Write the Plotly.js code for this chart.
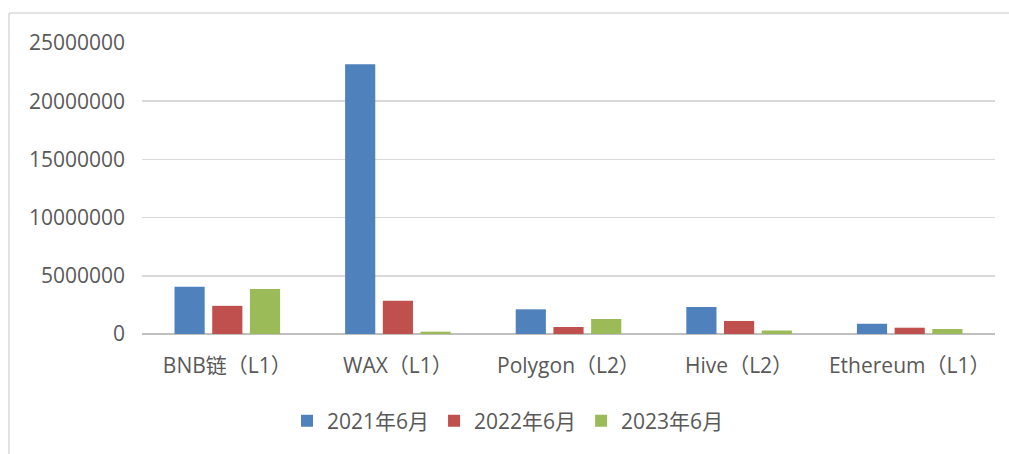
<!DOCTYPE html>
<html>
<head>
<meta charset="utf-8">
<script src="https://cdn.plot.ly/plotly-3.0.1.min.js"></script>
<style>
  html, body { margin: 0; padding: 0; background: #ffffff; }
  #chart { width: 1009px; height: 454px; }
</style>
</head>
<body>
<div id="chart"></div>
<script>
const categories = ["BNB链（L1）", "WAX（L1）", "Polygon（L2）", "Hive（L2）", "Ethereum（L1）"];
const seriesNames = ["2021年6月", "2022年6月", "2023年6月"];
const values2021 = [4060000, 23180000, 2120000, 2320000, 880000];
const values2022 = [2420000, 2850000, 600000, 1120000, 540000];
const values2023 = [3870000, 200000, 1290000, 300000, 430000];
const yTicks = [0, 5000000, 10000000, 15000000, 20000000, 25000000];

const colors = ["#4f81bd", "#c0504d", "#9bbb59"];
const allValues = [values2021, values2022, values2023];
const FONT = '"Open Sans", "Noto Sans CJK SC", sans-serif';

const traces = allValues.map((vals, i) => ({
  type: "bar",
  name: seriesNames[i],
  x: categories,
  y: vals,
  marker: { color: colors[i] },
  hoverinfo: "x+y+name"
}));

const L = 142, R = 14, T = 43, B = 120;
const W = 1009, H = 454;
const pw = W - L - R, ph = H - T - B;
const px = v => (v - L) / pw;
const py = v => (H - B - v) / ph;

const layout = {
  width: W, height: H,
  margin: { l: L, r: R, t: T, b: B, pad: 0 },
  paper_bgcolor: "#ffffff",
  plot_bgcolor: "#ffffff",
  barmode: "group",
  bargap: 0.337,
  bargroupgap: 0.2,
  font: { family: FONT, size: 21, color: "#595959" },
  showlegend: true,
  legend: {
    orientation: "h",
    x: px(508), xanchor: "center",
    y: py(421), yanchor: "middle",
    font: { family: FONT, size: 21, color: "#595959" },
    itemwidth: 30,
    traceorder: "normal"
  },
  xaxis: {
    type: "category",
    showgrid: false,
    showline: false,
    zeroline: false,
    ticks: "",
    ticklabelstandoff: 17,
    tickfont: { family: FONT, size: 21, color: "#595959" },
    fixedrange: true
  },
  yaxis: {
    range: [0, 25000000],
    tickvals: yTicks,
    ticktext: yTicks.map(v => String(v)),
    showgrid: true,
    gridcolor: "#d9d9d9",
    gridwidth: 1.5,
    zeroline: true,
    zerolinecolor: "#bfbfbf",
    zerolinewidth: 1.5,
    showline: false,
    ticks: "",
    ticklabelstandoff: 16,
    tickfont: { family: FONT, size: 21, color: "#595959" },
    fixedrange: true
  },
  shapes: [
    { type: "line", xref: "paper", yref: "paper", x0: px(9), x1: px(9), y0: py(13), y1: py(460),
      line: { color: "#d9d9d9", width: 1.5 } },
    { type: "line", xref: "paper", yref: "paper", x0: px(9), x1: px(1015), y0: py(13), y1: py(13),
      line: { color: "#d9d9d9", width: 1.5 } }
  ]
};

Plotly.newPlot("chart", traces, layout, { displayModeBar: false, staticPlot: true });
</script>
</body>
</html>
